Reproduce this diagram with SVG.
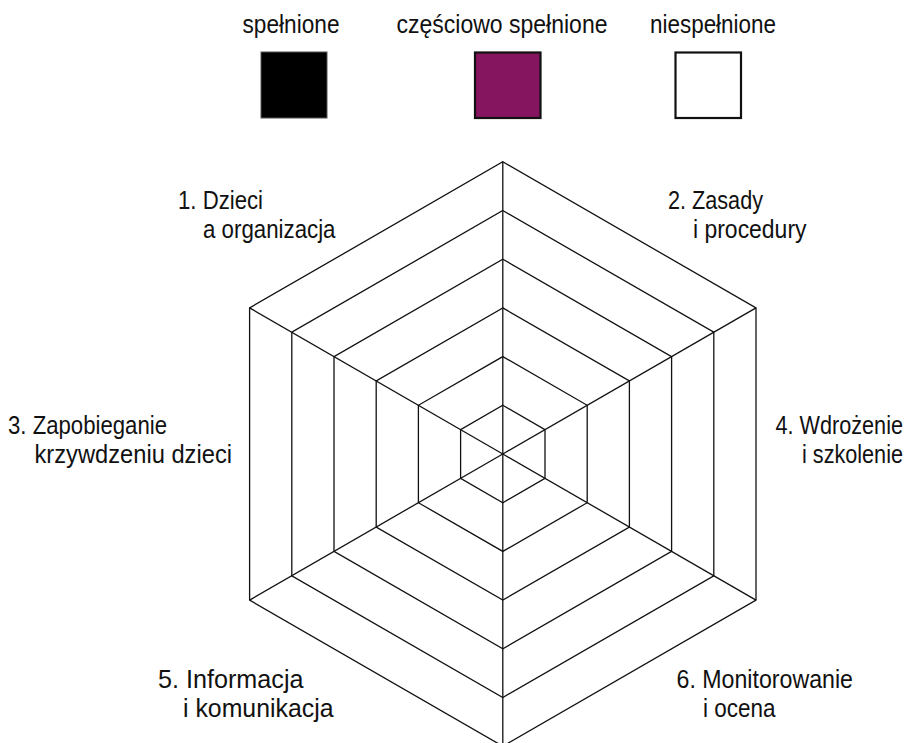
<svg xmlns="http://www.w3.org/2000/svg" width="910" height="743" viewBox="0 0 910 743">
<style>
.bg{fill:#fff}
.ring{fill:none;stroke:#111;stroke-width:1.3;stroke-linejoin:miter}
.spoke{stroke:#111;stroke-width:1.3}
.t{font-family:"Liberation Sans",Arial,sans-serif;font-size:26px;fill:#111}
.e{text-anchor:end}
.sw{stroke:#111;stroke-width:2.2}
</style>
<rect class="bg" width="910" height="743"/>
<g id="legend">
  <g id="legend-met">
    <text class="t" x="242.5" y="32.5" textLength="97" lengthAdjust="spacingAndGlyphs">spełnione</text>
    <rect x="261" y="52" width="66" height="66" fill="#000" stroke="#555" stroke-width="1"/>
  </g>
  <g id="legend-partial">
    <text class="t" x="396.5" y="32.5" textLength="211" lengthAdjust="spacingAndGlyphs">częściowo spełnione</text>
    <rect class="sw" x="475" y="52.5" width="65.5" height="65.5" fill="#86155F"/>
  </g>
  <g id="legend-unmet">
    <text class="t" x="650" y="32.5" textLength="126" lengthAdjust="spacingAndGlyphs">niespełnione</text>
    <rect class="sw" x="675.5" y="52.5" width="65.5" height="65.5" fill="#fff"/>
  </g>
</g>
<g id="rings">
  <polygon class="ring" points="502.8,405.3 545,429.65 545,478.35 502.8,502.7 460.6,478.35 460.6,429.65"/>
  <polygon class="ring" points="502.8,356.6 587.2,405.3 587.2,502.7 502.8,551.4 418.4,502.7 418.4,405.3"/>
  <polygon class="ring" points="502.8,307.9 629.4,380.95 629.4,527.05 502.8,600.1 376.2,527.05 376.2,380.95"/>
  <polygon class="ring" points="502.8,259.2 671.6,356.6 671.6,551.4 502.8,648.8 334,551.4 334,356.6"/>
  <polygon class="ring" points="502.8,210.5 713.8,332.25 713.8,575.75 502.8,697.5 291.8,575.75 291.8,332.25"/>
  <polygon class="ring" points="502.8,161.8 756,307.9 756,600.1 502.8,746.2 249.6,600.1 249.6,307.9"/>
</g>
<g id="connectors">
  <line class="spoke" x1="502.8" y1="454" x2="502.8" y2="161.8"/>
  <line class="spoke" x1="502.8" y1="454" x2="756" y2="307.9"/>
  <line class="spoke" x1="502.8" y1="454" x2="756" y2="600.1"/>
  <line class="spoke" x1="502.8" y1="454" x2="502.8" y2="746.2"/>
  <line class="spoke" x1="502.8" y1="454" x2="249.6" y2="600.1"/>
  <line class="spoke" x1="502.8" y1="454" x2="249.6" y2="307.9"/>
</g>
<g id="axis-1">
  <text class="t" x="178" y="208.5" textLength="85" lengthAdjust="spacingAndGlyphs">1. Dzieci</text>
  <text class="t" x="203" y="237.5" textLength="132.5" lengthAdjust="spacingAndGlyphs">a organizacja</text>
</g>
<g id="axis-2">
  <text class="t" x="668" y="208.5" textLength="95" lengthAdjust="spacingAndGlyphs">2. Zasady</text>
  <text class="t" x="693" y="237.5" textLength="113.5" lengthAdjust="spacingAndGlyphs">i procedury</text>
</g>
<g id="axis-3">
  <text class="t" x="8" y="433.5" textLength="159" lengthAdjust="spacingAndGlyphs">3. Zapobieganie</text>
  <text class="t" x="34.5" y="463" textLength="197.5" lengthAdjust="spacingAndGlyphs">krzywdzeniu dzieci</text>
</g>
<g id="axis-4">
  <text class="t e" x="903" y="433.5" textLength="127.5" lengthAdjust="spacingAndGlyphs">4. Wdrożenie</text>
  <text class="t e" x="903" y="463" textLength="101" lengthAdjust="spacingAndGlyphs">i szkolenie</text>
</g>
<g id="axis-5">
  <text class="t" x="158" y="687.5" textLength="145.5" lengthAdjust="spacingAndGlyphs">5. Informacja</text>
  <text class="t" x="183" y="716.5" textLength="150.5" lengthAdjust="spacingAndGlyphs">i komunikacja</text>
</g>
<g id="axis-6">
  <text class="t" x="676.5" y="687.5" textLength="176.5" lengthAdjust="spacingAndGlyphs">6. Monitorowanie</text>
  <text class="t" x="703" y="716.5" textLength="72.5" lengthAdjust="spacingAndGlyphs">i ocena</text>
</g>
</svg>
